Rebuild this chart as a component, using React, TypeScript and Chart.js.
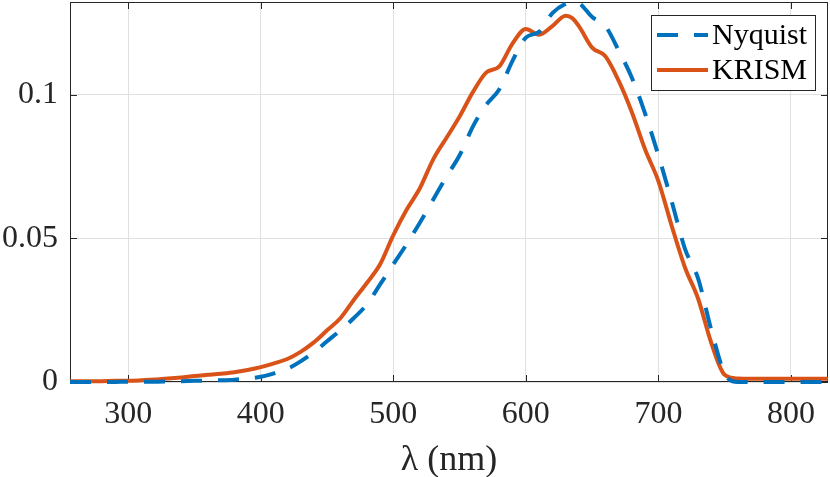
import { useEffect, useRef } from "react"
import { Chart, registerables } from "chart.js"

Chart.register(...registerables)

// wavelengths in nm
const wavelengths = [
  256, 260, 270, 280, 290, 300, 310, 320, 330, 340, 350, 360, 370, 380, 390,
  400, 410, 420, 430, 440, 450, 460, 470, 480, 490, 500, 510, 520, 530, 540,
  550, 560, 570, 580, 590, 600, 610, 620, 630, 635, 640, 650, 660, 670, 680,
  690, 700, 710, 720, 730, 740, 750, 760, 770, 780, 790, 800, 810, 820, 828,
]

const nyquist = [
  0, 0, 0, 0, 0, 0.0001, 0.0001, 0.0001, 0.0002, 0.0003, 0.0004, 0.0005, 0.0006, 0.0008, 0.0012,
  0.0018, 0.003, 0.0046, 0.0072, 0.0104, 0.0142, 0.018, 0.0222, 0.027, 0.034, 0.041, 0.048, 0.0555, 0.0635, 0.0715,
  0.079, 0.089, 0.0965, 0.102, 0.112, 0.12, 0.122, 0.1285, 0.1318, 0.1324, 0.132, 0.1272, 0.124, 0.1155, 0.106,
  0.0935, 0.079, 0.063, 0.0465, 0.036, 0.018, 0.003, 0, 0, 0, 0, 0, 0, 0, 0,
]

const krism = [
  0.0003, 0.0003, 0.0003, 0.0003, 0.0004, 0.0004, 0.0006, 0.0009, 0.0012, 0.0016, 0.0021, 0.0025, 0.0029, 0.0034, 0.0042,
  0.0052, 0.0065, 0.008, 0.0105, 0.0138, 0.018, 0.0222, 0.0285, 0.0345, 0.041, 0.0512, 0.06, 0.0675, 0.0775, 0.085,
  0.0925, 0.101, 0.1078, 0.11, 0.118, 0.123, 0.121, 0.124, 0.1276, 0.1268, 0.124, 0.1165, 0.1135, 0.105, 0.094,
  0.081, 0.07, 0.0545, 0.04, 0.029, 0.0135, 0.0025, 0.0012, 0.0011, 0.0011, 0.0011, 0.0011, 0.0011, 0.0011, 0.0011,
]

const xTicks = [300, 400, 500, 600, 700, 800]
const yTicks = [0, 0.05, 0.1]

const FONT = "'Liberation Serif', 'Times New Roman', serif"
const AXIS_COLOR = "#262626"

// box round the axes with inward ticks, MATLAB style
const boxPlugin = {
  id: "box",
  beforeDatasetsDraw(chart: Chart) {
    const { ctx, chartArea: a, scales } = chart
    const len = 7
    ctx.save()
    ctx.strokeStyle = AXIS_COLOR
    ctx.lineWidth = 1
    ctx.strokeRect(a.left + 0.5, a.top + 0.5, a.right - a.left - 1, a.bottom - a.top - 1)
    ctx.beginPath()
    xTicks.forEach((v) => {
      const px = Math.round(scales.x.getPixelForValue(v)) + 0.5
      ctx.moveTo(px, a.bottom)
      ctx.lineTo(px, a.bottom - len)
      ctx.moveTo(px, a.top)
      ctx.lineTo(px, a.top + len)
    })
    yTicks.forEach((v) => {
      const py = Math.round(scales.y.getPixelForValue(v)) + 0.5
      ctx.moveTo(a.left, py)
      ctx.lineTo(a.left + len, py)
      ctx.moveTo(a.right, py)
      ctx.lineTo(a.right - len, py)
    })
    ctx.stroke()
    ctx.restore()
  },
}

// legend box in the upper right corner of the axes
const legendPlugin = {
  id: "boxLegend",
  afterDraw(chart: Chart) {
    const { ctx, chartArea: a } = chart
    const boxW = 164
    const boxH = 75
    const x0 = a.right - 13 - boxW
    const y0 = a.top + 13
    ctx.save()
    ctx.fillStyle = "#ffffff"
    ctx.fillRect(x0, y0, boxW, boxH)
    ctx.strokeStyle = AXIS_COLOR
    ctx.lineWidth = 1
    ctx.strokeRect(x0 + 0.5, y0 + 0.5, boxW, boxH)
    ctx.font = `30px ${FONT}`
    ctx.textBaseline = "middle"
    ctx.fillStyle = "#000000"
    chart.data.datasets.forEach((ds: any, i: number) => {
      const cy = y0 + 20 + i * 35
      ctx.beginPath()
      ctx.strokeStyle = ds.borderColor
      ctx.lineWidth = ds.borderWidth
      ctx.setLineDash(ds.borderDash || [])
      ctx.moveTo(x0 + 6, cy)
      ctx.lineTo(x0 + 57, cy)
      ctx.stroke()
      ctx.setLineDash([])
      ctx.fillText(ds.label, x0 + 61, cy + 1)
    })
    ctx.restore()
  },
}

export default function App() {
  const chartRef = useRef<HTMLCanvasElement>(null)
  const chartInstance = useRef<Chart | null>(null)

  useEffect(() => {
    document.body.style.margin = "0"
    if (!chartRef.current) return
    if (chartInstance.current) chartInstance.current.destroy()
    const ctx = chartRef.current.getContext("2d")
    if (!ctx) return

    chartInstance.current = new Chart(ctx, {
      type: "line",
      data: {
        datasets: [
          {
            label: "Nyquist",
            data: wavelengths.map((w, i) => ({ x: w, y: nyquist[i] })),
            borderColor: "#0072BD",
            borderWidth: 4,
            borderDash: [21, 16],
            pointRadius: 0,
            cubicInterpolationMode: "monotone",
            clip: { left: 0, right: 0, top: 0, bottom: 4 },
          },
          {
            label: "KRISM",
            data: wavelengths.map((w, i) => ({ x: w, y: krism[i] })),
            borderColor: "#D95319",
            borderWidth: 4,
            pointRadius: 0,
            cubicInterpolationMode: "monotone",
            clip: { left: 0, right: 0, top: 0, bottom: 4 },
          },
        ],
      },
      options: {
        animation: false,
        responsive: true,
        maintainAspectRatio: false,
        layout: { padding: { top: 2, right: 2, left: 0, bottom: 0 } },
        plugins: {
          legend: { display: false },
          tooltip: { enabled: false },
        },
        scales: {
          x: {
            type: "linear",
            min: 256,
            max: 828,
            afterBuildTicks: (axis: any) => {
              axis.ticks = xTicks.map((v) => ({ value: v }))
            },
            afterFit: (axis: any) => {
              axis.height = 95
              axis.paddingLeft = 0
              axis.paddingRight = 0
            },
            grid: { color: "#e0e0e0", drawTicks: false },
            border: { display: false },
            ticks: {
              font: { family: FONT, size: 32 },
              color: AXIS_COLOR,
              padding: 13,
              maxRotation: 0,
            },
            title: {
              display: true,
              text: "λ (nm)",
              font: { family: FONT, size: 36 },
              color: AXIS_COLOR,
              padding: { top: 0, bottom: -5 },
            },
          },
          y: {
            min: 0,
            max: 0.1324,
            afterBuildTicks: (axis: any) => {
              axis.ticks = yTicks.map((v) => ({ value: v }))
            },
            afterFit: (axis: any) => {
              axis.width = 70
              axis.paddingTop = 0
              axis.paddingBottom = 0
            },
            grid: { color: "#e0e0e0", drawTicks: false },
            border: { display: false },
            ticks: {
              font: { family: FONT, size: 32 },
              color: AXIS_COLOR,
              padding: 12,
              callback: (v: any) => String(v),
            },
          },
        },
      },
      plugins: [boxPlugin, legendPlugin],
    })

    return () => {
      if (chartInstance.current) {
        chartInstance.current.destroy()
        chartInstance.current = null
      }
    }
  }, [])

  return (
    <div style={{ width: 830, height: 477, position: "relative" }}>
      <canvas ref={chartRef} />
    </div>
  )
}
